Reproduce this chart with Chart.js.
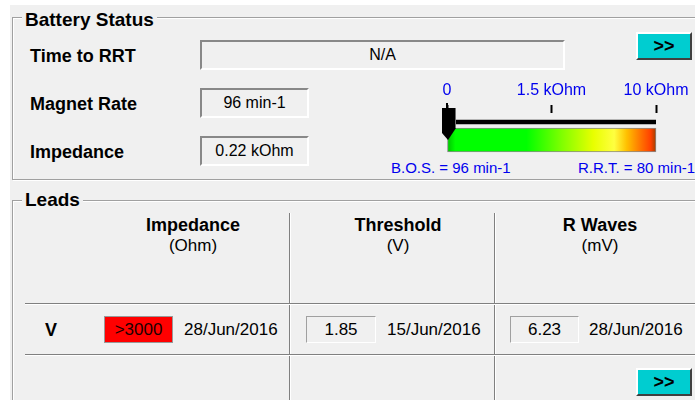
<!DOCTYPE html>
<html>
<head>
<meta charset="utf-8">
<title>Battery Status</title>
<script src="https://cdn.jsdelivr.net/npm/chart.js@4.4.1/dist/chart.umd.min.js"></script>
<style>
body { margin: 0; width: 695px; height: 400px; overflow: hidden; position: relative; background: #fff; font-family: "Liberation Sans", Arial, sans-serif; color: #000; }
.abs { position: absolute; white-space: nowrap; }
.panel { background: #f0f0f0; }
.group { border: 1px solid #a0a0a0; box-shadow: inset 1px 1px 0 #fff, 1px 1px 0 #fff; }
.gtitle { font-weight: bold; font-size: 19px; line-height: 19px; background: #f0f0f0; padding: 0 3px; }
.lbl { font-weight: bold; font-size: 18px; line-height: 18px; }
.txt { font-size: 17px; line-height: 18px; }
.box { box-sizing: border-box; border: 2px solid; border-color: #888 #fff #fff #888; font-size: 16px; text-align: center; }
.cell { box-sizing: border-box; border: 1px solid; border-color: #a0a0a0 #fff #fff #a0a0a0; font-size: 17px; text-align: center; color: #000; }
.cell.red { background: #ff0000; color: #1a0000; border-color: #999; }
.btn { box-sizing: border-box; background: #00cdd0; border: 2px solid; border-color: #fff #404040 #404040 #fff; font-weight: bold; font-size: 18px; text-align: center; }
.hline { height: 1px; background: #808080; box-shadow: 0 1px 0 #fff; }
.vline { width: 1px; background: #808080; box-shadow: 1px 0 0 #fff; }
.note { font-size: 15px; line-height: 16px; color: #0000ee; }
</style>
</head>
<body>
<script>
// Battery section
const batteryLabels = ['Time to RRT', 'Magnet Rate', 'Impedance'];
const batteryValues = ['N/A', '96 min-1', '0.22 kOhm'];

// Gauge: impedance scale on top, magnet rate marker between B.O.S. and R.R.T.
const gaugeTickLabels = ['0', '1.5 kOhm', '10 kOhm'];
const gaugeRows = ['track', 'battery'];
const magnetRate = 96;
const bosRate = 96;
const rrtRate = 80;

// Leads section
const leadColumns = ['Impedance', 'Threshold', 'R Waves'];
const leadUnits = ['(Ohm)', '(V)', '(mV)'];
const leadNames = ['V'];
const leadValues = ['>3000', '1.85', '6.23'];
const leadDates = ['28/Jun/2016', '15/Jun/2016', '28/Jun/2016'];

function put(cls, text, x, y, w, h, lh) {
    const d = document.createElement('div');
    d.className = 'abs ' + cls;
    d.textContent = text;
    d.style.left = x + 'px';
    d.style.top = y + 'px';
    if (w != null) d.style.width = w + 'px';
    if (h != null) d.style.height = h + 'px';
    if (lh != null) d.style.lineHeight = lh + 'px';
    document.body.appendChild(d);
    return d;
}

// background and group boxes
put('panel', '', 10, 5, 700, 400);
put('group', '', 12, 17, 700, 161);
put('gtitle', 'Battery Status', 22, 10);
put('group', '', 12, 200, 700, 300);
put('gtitle', 'Leads', 22, 190);

// battery rows
const rowTops = [47, 95, 143];
const boxTops = [40, 88, 136];
const boxWidths = [365, 109, 109];
batteryLabels.forEach((label, i) => {
    put('lbl', label, 30, rowTops[i]);
    put('box', batteryValues[i], 200, boxTops[i], boxWidths[i], 30, 26);
});
put('btn', '>>', 636, 32, 56, 28, 24);

put('note', `B.O.S. = ${bosRate} min-1`, 391, 160);
put('note', `R.R.T. = ${rrtRate} min-1`, 578, 160);

// leads table
put('vline', '', 289, 213, null, 200);
put('vline', '', 494, 213, null, 200);
put('hline', '', 25, 303, 680);
put('hline', '', 25, 354, 680);

const colCenters = [193, 398, 600];
const cellLefts = [104, 306, 510];
const cellWidths = [69, 70, 69];
const dateLefts = [184, 387, 589];
leadColumns.forEach((col, i) => {
    put('lbl', col, colCenters[i] - 80, 216, 160).style.textAlign = 'center';
    put('txt', leadUnits[i], colCenters[i] - 80, 237, 160).style.textAlign = 'center';
});
leadNames.forEach((name) => {
    put('lbl', name, 40, 321, 22).style.textAlign = 'center';
    leadValues.forEach((v, i) => {
        put(i === 0 ? 'cell red' : 'cell', v, cellLefts[i], 316, cellWidths[i], 27, 25);
        put('txt', leadDates[i], dateLefts[i], 321);
    });
});
put('btn', '>>', 636, 368, 56, 28, 24);

// gauge canvas
const wrap = put('', '', 380, 70);
const canvas = document.createElement('canvas');
canvas.width = 340;
canvas.height = 110;
wrap.appendChild(canvas);

// pointer marker image
const marker = document.createElement('canvas');
marker.width = 18;
marker.height = 38;
const m = marker.getContext('2d');
m.fillStyle = '#000';
m.fillRect(8, 0, 2, 6);
m.beginPath();
m.moveTo(4, 5);
m.lineTo(18, 5);
m.lineTo(18, 25);
m.lineTo(10, 37);
m.lineTo(4, 30);
m.closePath();
m.fill();
m.strokeStyle = '#707070';
m.beginPath();
m.moveTo(17.5, 5);
m.lineTo(17.5, 25);
m.stroke();

const lastIdx = gaugeTickLabels.length - 1;
const markerPos = (bosRate - magnetRate) / (bosRate - rrtRate) * lastIdx;

function batteryGradient(context) {
    const area = context.chart.chartArea;
    if (!area) return '#00ff00';
    const g = context.chart.ctx.createLinearGradient(area.left, 0, area.right, 0);
    g.addColorStop(0, '#00c000');
    g.addColorStop(0.04, '#00ff00');
    g.addColorStop(0.38, '#00ff00');
    g.addColorStop(0.55, '#80ff00');
    g.addColorStop(0.7, '#e8ff00');
    g.addColorStop(0.8, '#ffff40');
    g.addColorStop(0.86, '#ffc000');
    g.addColorStop(0.93, '#ff7000');
    g.addColorStop(0.975, '#ff4000');
    g.addColorStop(1, '#a04000');
    return g;
}

new Chart(canvas, {
    type: 'bar',
    data: {
        labels: gaugeRows,
        datasets: [
            {
                type: 'scatter',
                data: [{ x: markerPos, y: gaugeRows[0] }],
                pointStyle: marker,
                pointRadius: 10,
                clip: false,
                order: 0
            },
            {
                type: 'bar',
                indexAxis: 'y',
                data: [[0, lastIdx], null],
                backgroundColor: '#000',
                barThickness: 4,
                grouped: false,
                order: 1
            },
            {
                type: 'bar',
                indexAxis: 'y',
                data: [null, [0, lastIdx]],
                backgroundColor: batteryGradient,
                borderColor: '#8a8a8a',
                borderWidth: 1,
                borderSkipped: false,
                barThickness: 24,
                grouped: false,
                clip: false,
                order: 2
            }
        ]
    },
    options: {
        responsive: false,
        animation: false,
        events: [],
        layout: { padding: { left: 67, right: 64, top: 0, bottom: 31 } },
        plugins: { legend: { display: false }, tooltip: { enabled: false } },
        scales: {
            x: {
                type: 'linear',
                position: 'top',
                min: 0,
                max: lastIdx,
                offset: false,
                afterFit: (s) => { s.height = 43; },
                border: { display: false },
                grid: { offset: false, drawOnChartArea: false, tickLength: 8, tickWidth: 2, tickColor: '#000' },
                ticks: {
                    stepSize: 1,
                    autoSkip: false,
                    maxRotation: 0,
                    padding: 5,
                    color: '#0000ee',
                    font: { family: 'Liberation Sans', size: 16 },
                    callback: (v) => gaugeTickLabels[v]
                }
            },
            y: { type: 'category', display: false, offset: true }
        }
    }
});
</script>
</body>
</html>
